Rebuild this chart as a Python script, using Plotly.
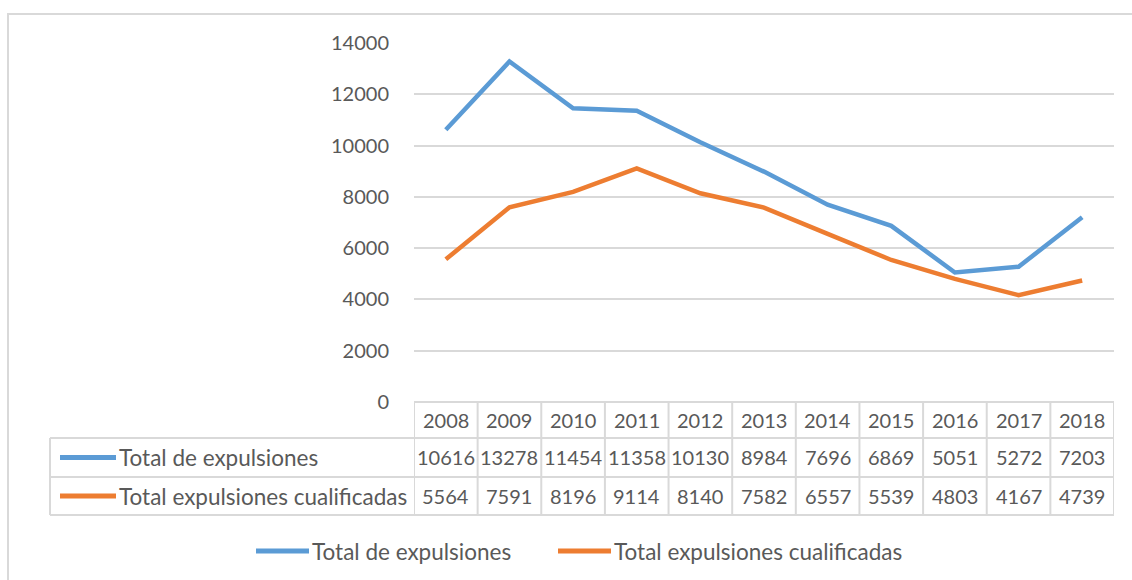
import plotly.graph_objects as go

# Expulsions per year
years = [2008, 2009, 2010, 2011, 2012, 2013, 2014, 2015, 2016, 2017, 2018]
total_expulsiones = [10616, 13278, 11454, 11358, 10130, 8984, 7696, 6869, 5051, 5272, 7203]
total_cualificadas = [5564, 7591, 8196, 9114, 8140, 7582, 6557, 5539, 4803, 4167, 4739]
series_names = ["Total de expulsiones", "Total expulsiones cualificadas"]
y_ticks = [0, 2000, 4000, 6000, 8000, 10000, 12000, 14000]

BLUE = "#5B9BD5"
ORANGE = "#ED7D31"
GRID = "#D9D9D9"
TEXT = "#595959"
FONT = "Lato"
NUM_SIZE = 20
LABEL_SIZE = 22.5

W, H = 1132, 580
L, R, T, B = 414, 18, 43, 178
PW = W - L - R
PH = H - T - B


def px_x(x):
    return (x - L) / PW


def px_y(y):
    return (H - B - y) / PH


fig = go.Figure()
for name, vals, col in [(series_names[0], total_expulsiones, BLUE),
                        (series_names[1], total_cualificadas, ORANGE)]:
    fig.add_trace(go.Scatter(x=years, y=vals, mode="lines", name=name,
                             line=dict(color=col, width=4.5), showlegend=False,
                             hoverinfo="x+y"))

shapes = []
annotations = []

# Data table beneath the plot
row_edges = [402, 438, 477, 515]
ry = [px_y(v) for v in row_edges]
table_left = px_x(50)
line_style = dict(color=GRID, width=2)

# horizontal borders
shapes.append(dict(type="line", xref="x", yref="paper", x0=years[0] - 0.5, x1=years[-1] + 0.5,
                   y0=ry[0], y1=ry[0], line=line_style))
for y in ry[1:]:
    shapes.append(dict(type="line", xref="paper", yref="paper", x0=table_left, x1=1,
                       y0=y, y1=y, line=line_style))
# vertical borders
for i in range(len(years) + 1):
    xv = years[0] - 0.5 + i
    shapes.append(dict(type="line", xref="x", yref="paper", x0=xv, x1=xv,
                       y0=ry[0], y1=ry[3], line=line_style))
shapes.append(dict(type="line", xref="paper", yref="paper", x0=table_left, x1=table_left,
                   y0=ry[1], y1=ry[3], line=line_style))

# header years
for yr in years:
    annotations.append(dict(x=yr, y=(ry[0] + ry[1]) / 2, xref="x", yref="paper",
                            text=str(yr), showarrow=False, xanchor="center", yanchor="middle",
                            font=dict(size=NUM_SIZE, color=TEXT, family=FONT)))
# value rows
for r, (name, vals, col) in enumerate([(series_names[0], total_expulsiones, BLUE),
                                       (series_names[1], total_cualificadas, ORANGE)]):
    yc = (ry[r + 1] + ry[r + 2]) / 2
    for yr, v in zip(years, vals):
        annotations.append(dict(x=yr, y=yc, xref="x", yref="paper", text=str(v),
                                showarrow=False, xanchor="center", yanchor="middle",
                                font=dict(size=NUM_SIZE, color=TEXT, family=FONT)))
    shapes.append(dict(type="line", xref="paper", yref="paper", x0=px_x(60), x1=px_x(116),
                       y0=yc, y1=yc, line=dict(color=col, width=5)))
    annotations.append(dict(x=px_x(117), y=yc, xref="paper", yref="paper", text=name,
                            showarrow=False, xanchor="left", yanchor="middle",
                            font=dict(size=LABEL_SIZE, color=TEXT, family=FONT)))

# legend below the table
ly = px_y(551)
for x0, x1, tx, name, col in [(256, 309, 310, series_names[0], BLUE),
                              (558, 611, 612, series_names[1], ORANGE)]:
    shapes.append(dict(type="line", xref="paper", yref="paper", x0=px_x(x0), x1=px_x(x1),
                       y0=ly, y1=ly, line=dict(color=col, width=5)))
    annotations.append(dict(x=px_x(tx), y=ly, xref="paper", yref="paper", text=name,
                            showarrow=False, xanchor="left", yanchor="middle",
                            font=dict(size=LABEL_SIZE, color=TEXT, family=FONT)))

# chart frame
shapes.append(dict(type="rect", xref="paper", yref="paper", x0=px_x(8), x1=px_x(1160),
                   y0=px_y(600), y1=px_y(14), line=dict(color=GRID, width=2),
                   fillcolor="rgba(0,0,0,0)", layer="below"))

fig.update_layout(
    width=W, height=H,
    margin=dict(l=L, r=R, t=T, b=B, pad=0),
    paper_bgcolor="white", plot_bgcolor="white",
    font=dict(family=FONT, color=TEXT, size=NUM_SIZE),
    showlegend=False,
    shapes=shapes, annotations=annotations,
    xaxis=dict(range=[years[0] - 0.5, years[-1] + 0.5], showticklabels=False,
               showgrid=False, zeroline=False, showline=False, fixedrange=True),
    yaxis=dict(range=[0, 14000], tickvals=y_ticks, ticktext=[str(v) for v in y_ticks],
               showgrid=True, gridcolor=GRID, gridwidth=2, zeroline=False, showline=False,
               ticks="", ticklabelstandoff=24,
               tickfont=dict(size=NUM_SIZE, color=TEXT, family=FONT),
               fixedrange=True),
)

fig.write_html("out.html")
